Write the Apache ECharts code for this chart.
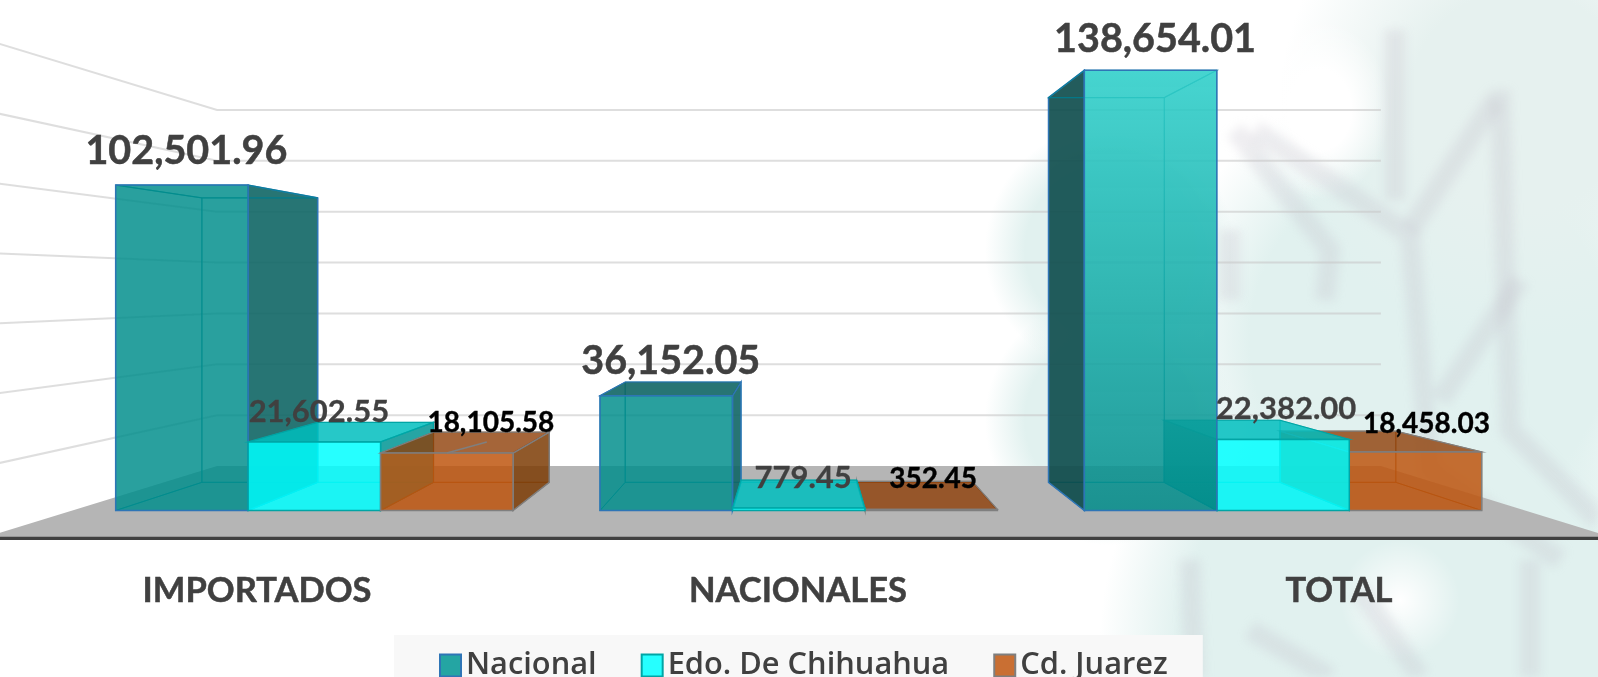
<!DOCTYPE html>
<html>
<head>
<meta charset="utf-8">
<script src="https://cdn.jsdelivr.net/npm/echarts@6/dist/echarts.min.js"></script>
<style>
  html, body { margin: 0; padding: 0; background: #fff; overflow: hidden; }
  #bg, #marks, #chart { position: absolute; left: 0; top: 0; width: 1598px; height: 677px; }
  /* marca de agua de fondo */
  #bg {
    background:
      radial-gradient(ellipse 70px 90px at 1320px 110px, #fff 0, #fff 45%, rgba(255,255,255,0) 100%),
      radial-gradient(ellipse 60px 60px at 1400px 600px, #fff 0, rgba(255,255,255,0) 100%),
      radial-gradient(circle at 1110px 250px, #e1f1ef 0, #e1f1ef 85px, rgba(225,241,239,0) 125px),
      radial-gradient(circle at 1110px 420px, #e1f1ef 0, #e1f1ef 85px, rgba(225,241,239,0) 125px),
      radial-gradient(circle at 1520px 100px, #e6f1ef 0, #e6f1ef 110px, rgba(230,241,239,0) 240px),
      radial-gradient(circle at 1430px 340px, #e1f1ef 0, #e1f1ef 180px, rgba(225,241,239,0) 270px),
      radial-gradient(circle at 1400px 640px, #e1f1ef 0, #e1f1ef 220px, rgba(225,241,239,0) 300px),
      #fff;
  }
  #marks { filter: blur(5px); }
</style>
</head>
<body>
<div id="bg"></div>
<svg id="marks" viewBox="0 0 1598 677" fill="none" stroke="rgba(190,185,195,0.24)" stroke-width="20">
  <polyline points="1255,130 1410,235 1430,470 1560,560"/>
  <polyline points="1395,30 1395,200"/>
  <polyline points="1495,100 1410,230"/>
  <polyline points="1500,90 1510,430 1598,520"/>
  <polyline points="1235,130 1330,250 1325,300"/>
  <polyline points="1440,400 1520,280"/>
  <polyline points="1230,230 1230,300"/>
  <polyline points="1190,560 1195,677"/>
  <polyline points="1250,630 1330,677"/>
  <polyline points="1360,590 1420,677"/>
  <polyline points="1530,560 1530,677"/>
</svg>
<div id="chart"></div>
<script>
const categories = ['IMPORTADOS', 'NACIONALES', 'TOTAL'];
const nacional = [102501.96, 36152.05, 138654.01];
const chihuahua = [21602.55, 779.45, 22382.00];
const juarez = [18105.58, 352.45, 18458.03];
const wallTicks = [20000, 40000, 60000, 80000, 100000, 120000, 140000];

// perspectiva del grafico 3D
const VP = [800, 287];
const BAR_DEPTH = 0.126;
const WALL_DEPTH = 0.199;
const FLOOR_FRONT = -0.117;
const BAR_RATIO = 0.2735;

function project(p, d) {
  return [p[0] + (VP[0] - p[0]) * d, p[1] + (VP[1] - p[1]) * d];
}

const looks = [
  {
    front: 'rgba(0,142,140,0.84)', side: 'rgba(15,102,101,0.9)', top: 'rgba(15,102,101,0.9)',
    outer: '#2E75B6', inner: 'rgba(0,130,150,0.8)', labelSize: 39.5, labelWeight: 'bold', labelColor: '#404040', labelStroke: 0.5
  },
  {
    front: 'rgba(0,255,255,0.85)', side: 'rgba(0,149,148,0.85)', top: 'rgba(0,190,190,0.85)',
    outer: '#00A5A5', inner: 'rgba(0,170,170,0.6)', labelSize: 31, labelWeight: 'bold', labelColor: '#404040', labelStroke: 0.3
  },
  {
    front: 'rgba(190,83,12,0.84)', side: 'rgba(125,60,5,0.85)', top: 'rgba(143,62,8,0.8)',
    outer: '#7F7F7F', inner: 'rgba(150,80,20,0.7)', labelSize: 28, labelWeight: 'bold', labelColor: '#000', labelStroke: 0.4
  }
];

// TOTAL de Nacional tiene otro relleno
function frontFill(seriesIdx, catIdx) {
  if (seriesIdx === 0 && catIdx === 2) {
    return new echarts.graphic.LinearGradient(0, 0, 0, 1, [
      { offset: 0, color: 'rgba(50,208,203,0.9)' },
      { offset: 1, color: 'rgba(0,140,138,0.85)' }
    ]);
  }
  return looks[seriesIdx].front;
}

function sideFill(seriesIdx, catIdx) {
  if (seriesIdx === 0 && catIdx === 2) return 'rgba(11,74,74,0.9)';
  return looks[seriesIdx].side;
}

function money(v) {
  return v.toLocaleString('en-US', { minimumFractionDigits: 2, maximumFractionDigits: 2 });
}

function renderWalls(params, api) {
  const cs = params.coordSys;
  const xl = cs.x;
  const xr = cs.x + cs.width;
  const y0 = api.coord([0, 0])[1];
  const children = [{
    type: 'polygon',
    shape: {
      points: [
        project([xl, y0], FLOOR_FRONT), project([xr, y0], FLOOR_FRONT),
        project([xr, y0], WALL_DEPTH), project([xl, y0], WALL_DEPTH)
      ]
    },
    style: { fill: '#B5B5B5' },
    z2: 1
  }];
  wallTicks.forEach(function (t) {
    const y = api.coord([0, t])[1];
    children.push({
      type: 'polyline',
      shape: {
        points: [
          project([xl, y], FLOOR_FRONT), project([xl, y], WALL_DEPTH), project([xr, y], WALL_DEPTH)
        ]
      },
      style: { fill: null, stroke: 'rgba(200,200,200,0.6)', lineWidth: 2 },
      z2: 1
    });
  });
  return { type: 'group', silent: true, children: children };
}

function labelShift(s, cat) {
  if (s === 2 && cat === 0) return 44;
  if (s === 2 && cat === 2) return 11;
  if (s === 2 && cat === 1) return 2;
  if (s === 1 && cat === 2) return 3;
  return 4.5;
}

function labelRise(s, cat) {
  if (s === 0) return cat === 2 ? 31 : 34;
  if (s === 2 && cat === 2) return 28;
  return 30;
}

function renderBar(params, api) {
  const s = params.seriesIndex - 1;
  const cat = api.value(0);
  const val = api.value(1);
  const look = looks[s];
  const w = api.size([1, 0])[0] * BAR_RATIO;
  const center = api.coord([cat, 0])[0] + (s - 1) * w;
  const xl = center - w / 2;
  const xr = center + w / 2;
  const yb = api.coord([cat, 0])[1];
  const yt = api.coord([cat, val])[1];
  const order = center < VP[0] ? s : 2 - s;
  const z = 10 + order * 10;

  const fbl = [xl, yb], fbr = [xr, yb], ftl = [xl, yt], ftr = [xr, yt];
  const bbl = project(fbl, BAR_DEPTH), bbr = project(fbr, BAR_DEPTH);
  const btl = project(ftl, BAR_DEPTH), btr = project(ftr, BAR_DEPTH);

  function face(points, fill, stroke, lineWidth, rank) {
    return {
      type: 'polygon',
      shape: { points: points },
      style: { fill: fill, stroke: stroke, lineWidth: lineWidth },
      z2: z + rank
    };
  }

  const catSide = sideFill(s, cat);
  const children = [
    face([bbl, bbr, btr, btl], null, look.inner, 1, 0),
    face([fbl, fbr, bbr, bbl], null, look.inner, 1, 0),
    face([fbl, ftl, btl, bbl], xl > VP[0] ? catSide : null, xl > VP[0] ? look.outer : look.inner, xl > VP[0] ? 1.5 : 1, 1),
    face([fbr, ftr, btr, bbr], xr < VP[0] ? catSide : null, xr < VP[0] ? look.outer : look.inner, xr < VP[0] ? 1.5 : 1, 1),
    // la cara superior solo se ve si queda bajo el punto de fuga
    face([ftl, ftr, btr, btl], yt > VP[1] ? look.top : null, yt > VP[1] ? look.outer : look.inner, 1.2, 2),
    face([fbl, fbr, ftr, ftl], frontFill(s, cat), look.outer, 1.5, 3)
  ];

  // etiqueta de valor, la de Cd. Juarez en IMPORTADOS va movida con linea guia
  if (s === 2 && cat === 0) {
    children.push({
      type: 'line',
      shape: { x1: center, y1: yt, x2: center + 40, y2: yt - 11 },
      style: { stroke: '#7F7F7F', lineWidth: 1.5 },
      z2: 90
    });
  }
  children.push({
    type: 'text',
    x: center + labelShift(s, cat),
    y: yt - labelRise(s, cat),
    style: {
      text: money(val),
      fontFamily: 'Lato',
      fontSize: look.labelSize,
      fontWeight: look.labelWeight,
      fill: look.labelColor,
      stroke: look.labelColor,
      lineWidth: look.labelStroke,
      align: 'center',
      verticalAlign: 'middle'
    },
    z2: 100
  });
  return { type: 'group', silent: true, children: children };
}

function barData(values) {
  return values.map((v, i) => [i, v]);
}

function barSeries(name, values) {
  return {
    name: name,
    type: 'custom',
    xAxisIndex: 0,
    yAxisIndex: 0,
    clip: false,
    renderItem: renderBar,
    encode: { x: 0, y: 1 },
    data: barData(values)
  };
}

const chart = echarts.init(document.getElementById('chart'));

const option = {
  animation: false,
  legend: {
    left: 394,
    top: 635,
    padding: [15, 35, 0, 45],
    backgroundColor: '#F8F8F8',
    itemWidth: 21,
    itemHeight: 22,
    itemGap: 44,
    icon: 'rect',
    selectedMode: false,
    textStyle: { fontFamily: 'Open Sans', fontSize: 30.8, fontWeight: 600, color: '#404040' },
    data: [
      { name: 'Nacional', itemStyle: { color: '#24A5A3', borderColor: '#2E75B6', borderWidth: 2 } },
      { name: 'Edo. De Chihuahua', itemStyle: { color: '#26FFFF', borderColor: '#00A5A5', borderWidth: 2 } },
      { name: 'Cd. Juarez', itemStyle: { color: '#C96F33', borderColor: '#7F7F7F', borderWidth: 2 } }
    ]
  },
  grid: [
    { left: 72.2, width: 1453, top: 2.5, height: 508, outerBoundsMode: 'none' },
    { left: -13.5, width: 1623, top: 536.5, height: 1, outerBoundsMode: 'none' }
  ],
  xAxis: [
    { type: 'category', gridIndex: 0, data: categories, show: false },
    {
      type: 'category',
      gridIndex: 1,
      data: categories,
      axisTick: { show: false },
      axisLine: { lineStyle: { color: '#404040', width: 4 } },
      axisLabel: {
        margin: 36, fontFamily: 'Lato', fontSize: 34.5, fontWeight: 'bold', color: '#404040',
        textBorderColor: '#404040', textBorderWidth: 0.5
      }
    }
  ],
  yAxis: [
    { type: 'value', gridIndex: 0, min: 0, max: 160000, show: false },
    { type: 'value', gridIndex: 1, min: 0, max: 1, show: false }
  ],
  series: [
    {
      type: 'custom',
      xAxisIndex: 0,
      yAxisIndex: 0,
      clip: false,
      silent: true,
      renderItem: renderWalls,
      data: [[0, 0]]
    },
    barSeries('Nacional', nacional),
    barSeries('Edo. De Chihuahua', chihuahua),
    barSeries('Cd. Juarez', juarez)
  ]
};

chart.setOption(option);
</script>
</body>
</html>
